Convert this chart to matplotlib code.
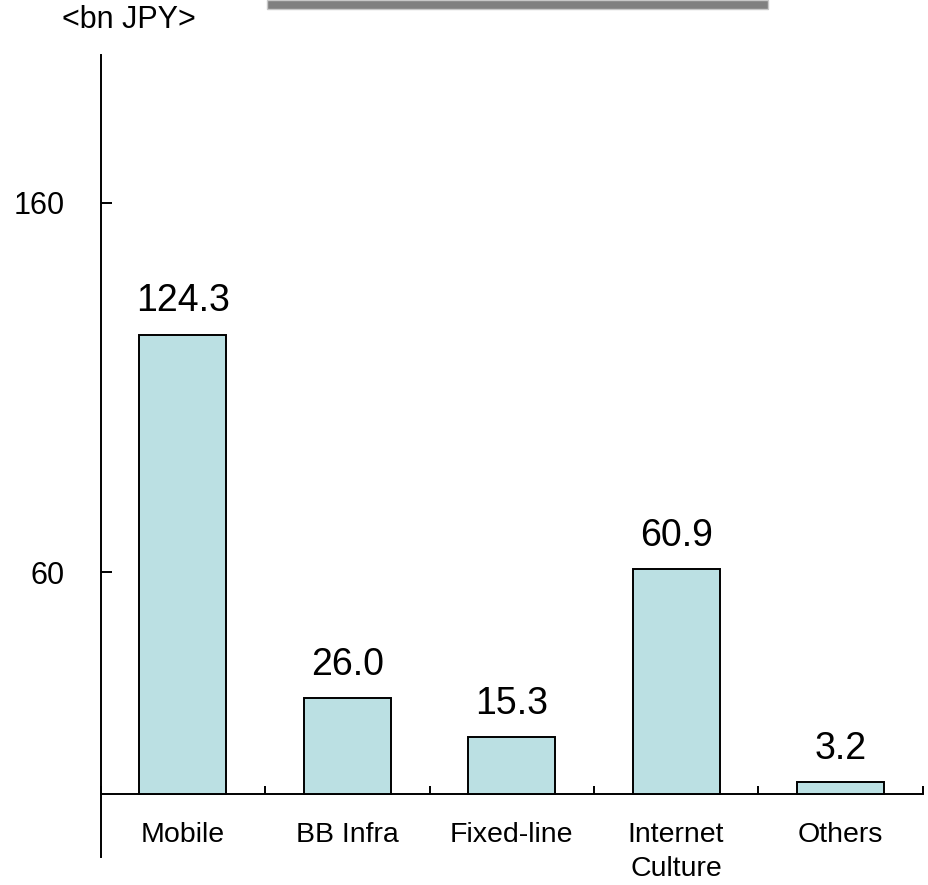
import numpy as np
import matplotlib
matplotlib.use('Agg')
import matplotlib.pyplot as plt
from matplotlib.patches import Rectangle

plt.rcParams['font.family'] = ['Liberation Sans', 'DejaVu Sans']

# data
categories = ['Mobile', 'BB Infra', 'Fixed-line', 'Internet\nCulture', 'Others']
values = [124.3, 26.0, 15.3, 60.9, 3.2]
y_ticks = [60, 160]
unit_label = '<bn JPY>'

W, H = 929, 885
fig = plt.figure(figsize=(W / 100, H / 100), dpi=100)
ax = fig.add_axes([100.7 / W, 1 - 857 / H, (922.7 - 100.7) / W, (857 - 55) / H])

x = np.arange(1, len(categories) + 1)
bars = ax.bar(x, values, width=0.53, color='#BBE0E3', edgecolor='black',
              linewidth=1.4, zorder=3)

# value labels above each bar
for xi, v in zip(x, values):
    ax.annotate('%.1f' % v, (xi, v), xytext=(0, 11), textcoords='offset points',
                ha='center', va='bottom', fontsize=27)

ax.set_xlim(0.5, len(categories) + 0.5)
ax.set_ylim(-17.1, 200)

for s in ['top', 'right']:
    ax.spines[s].set_visible(False)
ax.spines['bottom'].set_position(('data', 0))
ax.spines['left'].set_linewidth(1.4)
ax.spines['bottom'].set_linewidth(1.4)

# boundary ticks on the x axis, labels on minor ticks at bar centres
ax.set_xticks(np.arange(0.5, len(categories) + 1, 1))
ax.set_xticklabels([])
ax.tick_params(axis='x', which='major', direction='in', length=6, width=1.4)
ax.set_xticks(x, minor=True)
ax.set_xticklabels(categories, minor=True, fontsize=20.5, linespacing=1.42)
ax.tick_params(axis='x', which='minor', length=0, pad=20)

ax.set_yticks(y_ticks)
ax.set_yticklabels([str(t) for t in y_ticks], fontsize=22)
ax.tick_params(axis='y', direction='in', length=8, width=1.4, pad=26)

fig.text(62 / W, 1 - 20 / H, unit_label, fontsize=22, ha='left', va='center')

# grey strip at the top of the slide
fig.patches.append(Rectangle((267 / W, 1 - 9 / H), (768 - 267) / W, 9 / H,
                             transform=fig.transFigure, facecolor='#808080',
                             edgecolor='#C8C8C8', linewidth=1))

fig.savefig('out.png', dpi=100)
